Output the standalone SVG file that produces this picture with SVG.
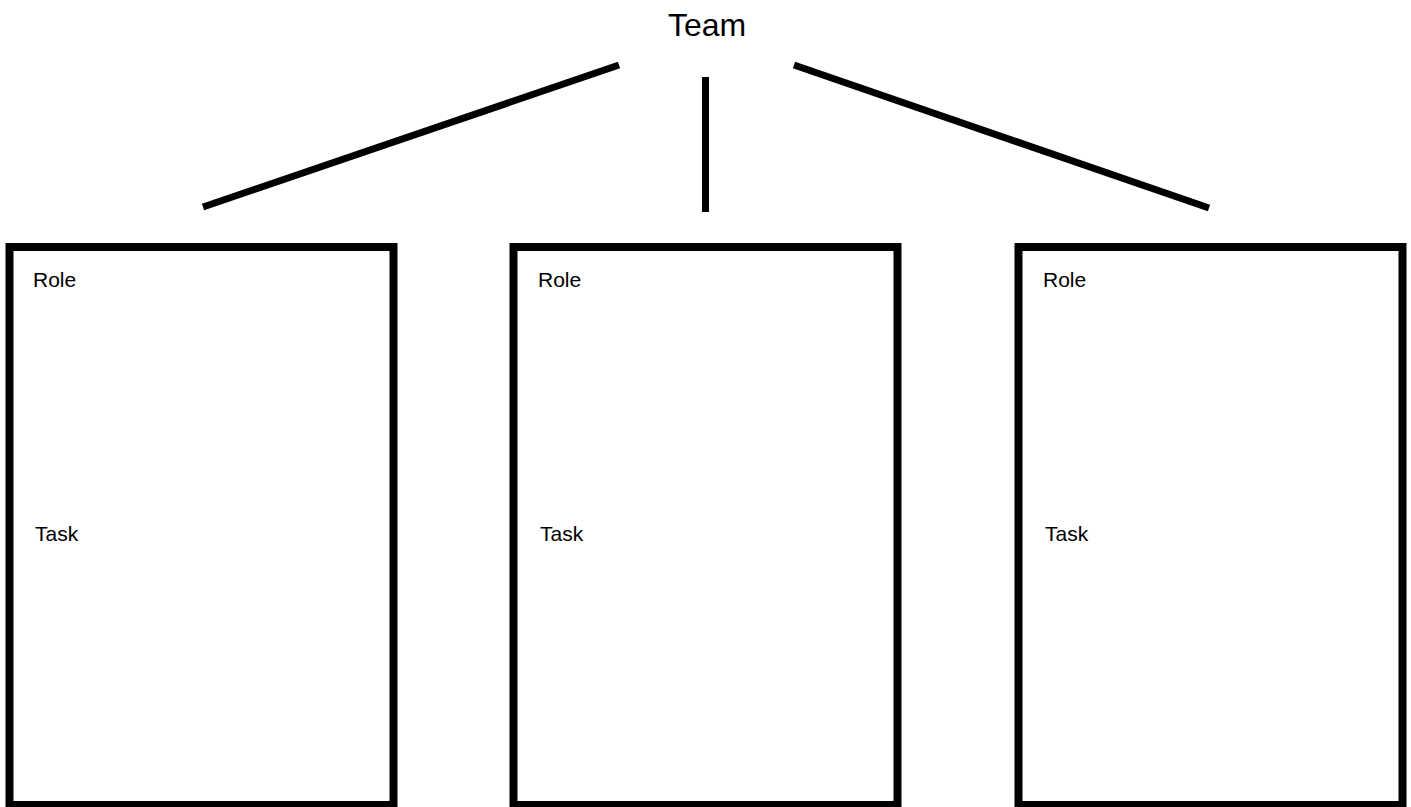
<svg xmlns="http://www.w3.org/2000/svg" width="1411" height="807" viewBox="0 0 1411 807">
<style>
.box{fill:#fff;stroke:#000;stroke-width:8}
.con{stroke:#000;stroke-width:7;stroke-linecap:butt;fill:none}
.lbl{font-family:"Liberation Sans",Arial,sans-serif;font-size:21px;fill:#000}
.title{font-family:"Liberation Sans",Arial,sans-serif;font-size:32px;fill:#000}
</style>
<rect width="1411" height="807" fill="#fff"/>
<g id="team"><text class="title" x="707" y="36" text-anchor="middle">Team</text></g>
<g id="connectors">
<line class="con" x1="619" y1="65" x2="203" y2="207"/>
<line class="con" x1="705.5" y1="77" x2="705.5" y2="212"/>
<line class="con" x1="794" y1="65" x2="1209" y2="208"/>
</g>
<g id="member1">
<rect class="box" x="9.5" y="247" width="384" height="558"/>
<text class="lbl" x="33" y="287">Role</text>
<text class="lbl" x="35" y="541">Task</text>
</g>
<g id="member2">
<rect class="box" x="513.5" y="247" width="384" height="558"/>
<text class="lbl" x="538" y="287">Role</text>
<text class="lbl" x="540" y="541">Task</text>
</g>
<g id="member3">
<rect class="box" x="1018.5" y="247" width="384" height="558"/>
<text class="lbl" x="1043" y="287">Role</text>
<text class="lbl" x="1045" y="541">Task</text>
</g>
</svg>
